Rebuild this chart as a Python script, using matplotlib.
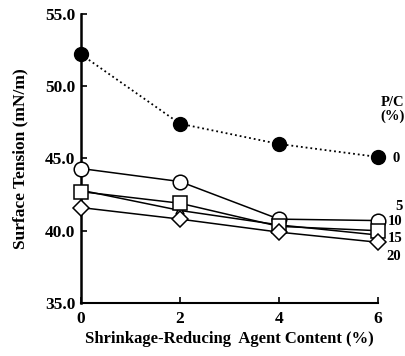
import matplotlib
matplotlib.use("Agg")
import matplotlib.pyplot as plt

# Shrinkage-reducing agent content (%)
sra_content = [0, 2, 4, 6]

# Surface tension (mN/m) for each P/C ratio (%)
pc_labels = ["0", "5", "10", "15", "20"]
st_pc0 = [52.2, 47.4, 46.0, 45.1]
st_pc5 = [44.3, 43.4, 40.8, 40.7]
st_pc10 = [42.7, 41.9, 40.3, 40.0]
st_pc15 = [42.8, 41.4, 40.4, 39.7]
st_pc20 = [41.6, 40.8, 39.9, 39.2]

plt.rcParams['font.family'] = ['Liberation Serif', 'DejaVu Serif']

fig = plt.figure(figsize=(4.05, 3.56), dpi=100)
ax = fig.add_axes([0.2, 0.149, 0.733, 0.812])

ax.plot(sra_content, st_pc0, color='black', linestyle=':', linewidth=1.3,
        marker='o', markersize=10, markerfacecolor='black', clip_on=False, zorder=3)

# (values, marker, size, zorder) - triangles sit mostly hidden under squares
open_series = [
    (st_pc5, 'o', 10.5, 4),
    (st_pc15, '^', 6, 3),
    (st_pc10, 's', 9.5, 4),
    (st_pc20, 'D', 8.5, 4),
]
for vals, mk, ms, z in open_series:
    ax.plot(sra_content, vals, color='black', linewidth=1.1, marker=mk,
            markersize=ms, markerfacecolor='white', markeredgewidth=1.1,
            clip_on=False, zorder=z)

ax.set_xlim(0, 6)
ax.set_ylim(35, 55)
ax.set_xticks([0, 2, 4, 6])
ax.set_yticks([35, 40, 45, 50, 55])
ax.set_yticklabels(['35.0', '40.0', '45.0', '50.0', '55.0'])
ax.tick_params(direction='in', length=4, width=1.2, labelsize=12.5)
ax.tick_params(axis='x', pad=6)
ax.tick_params(axis='y', pad=4)
for lbl in ax.get_xticklabels() + ax.get_yticklabels():
    lbl.set_fontweight('bold')

ax.spines['top'].set_visible(False)
ax.spines['right'].set_visible(False)
ax.spines['left'].set_linewidth(1.8)
ax.spines['bottom'].set_linewidth(1.5)

ax.set_xlabel('Shrinkage-Reducing  Agent Content (%)', fontsize=12,
              fontweight='bold', labelpad=3)
ax.set_ylabel('Surface Tension (mN/m)', fontsize=12.5, fontweight='bold',
              labelpad=12)

# P/C labels at the right side
ax.text(6.06, 48.85, 'P/C', fontsize=10.5, fontweight='bold', va='center',
        ha='left', clip_on=False)
ax.text(6.06, 47.9, '(%)', fontsize=10.5, fontweight='bold', va='center',
        ha='left', clip_on=False)
label_y = [45.0, 41.7, 40.65, 39.45, 38.2]
label_x = [6.3, 6.36, 6.2, 6.2, 6.18]
for x, y, t in zip(label_x, label_y, pc_labels):
    ax.text(x, y, t, fontsize=10.5, fontweight='bold', va='center',
            ha='left', clip_on=False)

fig.savefig('out.png', dpi=100)
